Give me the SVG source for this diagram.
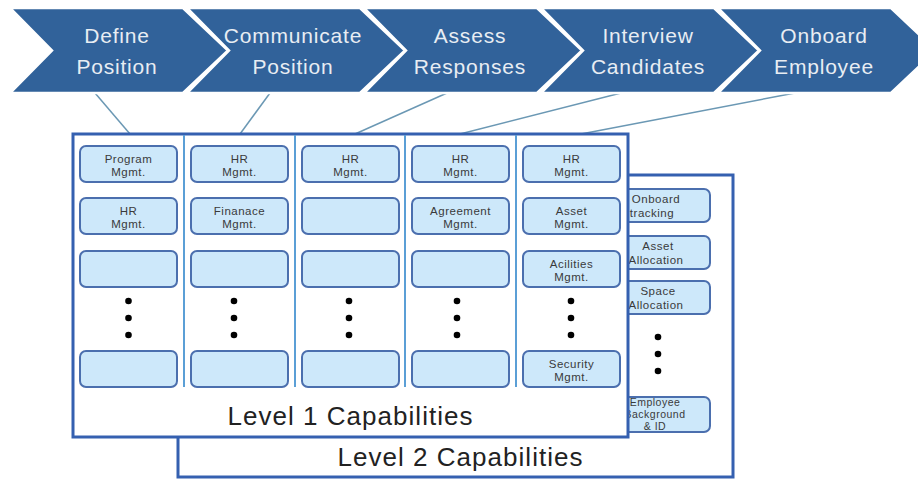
<svg xmlns="http://www.w3.org/2000/svg" width="918" height="479" viewBox="0 0 918 479">
<style>
.chev{fill:#31629a;stroke:#ffffff;stroke-width:2.5;stroke-linejoin:miter}
.ct{font-family:"Liberation Sans",Arial,sans-serif;font-size:21px;letter-spacing:0.8px;fill:#e8edf3;text-anchor:middle}
.cap{fill:#cde8fa;stroke:#4b6fae;stroke-width:2}
.st{font-family:"Liberation Sans",Arial,sans-serif;font-size:11.5px;letter-spacing:0.5px;fill:#3a3a3a;text-anchor:middle}
.sm{font-size:10.5px}
.frame{fill:#ffffff;stroke:#3560b0;stroke-width:3}
.div{stroke:#5b9fd6;stroke-width:2}
.lbl{font-family:"Liberation Sans",Arial,sans-serif;font-size:26px;fill:#222222;text-anchor:middle}
.conn{stroke:#6b98b4;stroke-width:1.5;fill:none}
.dot{fill:#000000}
</style>
<defs>
<polygon id="chevShape" points="0,8 173,8 218,50.5 173,93 0,93 42,50.5"/>
</defs>
<g id="connectors">
<line class="conn" x1="95" y1="93" x2="130" y2="134"/>
<line class="conn" x1="270" y1="93" x2="240" y2="134"/>
<line class="conn" x1="447" y1="93" x2="355" y2="134"/>
<line class="conn" x1="621" y1="93" x2="460" y2="134"/>
<line class="conn" x1="795" y1="93" x2="581" y2="134"/>
</g>
<g id="chevron-define" transform="translate(10,0)">
<use href="#chevShape" class="chev"/>
<text class="ct" x="107" y="43">Define</text>
<text class="ct" x="107" y="74">Position</text>
</g>
<g id="chevron-communicate" transform="translate(187,0)">
<use href="#chevShape" class="chev"/>
<text class="ct" x="106" y="43">Communicate</text>
<text class="ct" x="106" y="74">Position</text>
</g>
<g id="chevron-assess" transform="translate(364,0)">
<use href="#chevShape" class="chev"/>
<text class="ct" x="106" y="43">Assess</text>
<text class="ct" x="106" y="74">Responses</text>
</g>
<g id="chevron-interview" transform="translate(541,0)">
<use href="#chevShape" class="chev"/>
<text class="ct" x="107" y="43">Interview</text>
<text class="ct" x="107" y="74">Candidates</text>
</g>
<g id="chevron-onboard" transform="translate(718,0)">
<use href="#chevShape" class="chev"/>
<text class="ct" x="106" y="43">Onboard</text>
<text class="ct" x="106" y="74">Employee</text>
</g>
<g id="level2">
<rect class="frame" x="178" y="175" width="555" height="302"/>
<rect class="cap" x="600" y="189" width="110" height="33" rx="6"/>
<text class="st" x="656" y="203">Onboard</text>
<text class="st" x="652" y="217">tracking</text>
<rect class="cap" x="600" y="236" width="110" height="33" rx="6"/>
<text class="st" x="658" y="250">Asset</text>
<text class="st" x="656" y="264">Allocation</text>
<rect class="cap" x="600" y="281" width="110" height="33" rx="6"/>
<text class="st" x="658" y="295">Space</text>
<text class="st" x="656" y="309">Allocation</text>
<circle class="dot" cx="658" cy="337" r="3.3"/>
<circle class="dot" cx="658" cy="354" r="3.3"/>
<circle class="dot" cx="658" cy="371" r="3.3"/>
<rect class="cap" x="600" y="397" width="110" height="35" rx="6"/>
<text class="st sm" x="655" y="406">Employee</text>
<text class="st sm" x="655" y="418">Background</text>
<text class="st sm" x="655" y="430">&amp; ID</text>
<text class="lbl" x="460" y="466" textLength="245" lengthAdjust="spacing">Level 2 Capabilities</text>
</g>
<g id="level1">
<rect class="frame" x="73" y="134" width="555" height="303"/>
<line class="div" x1="184" y1="135" x2="184" y2="387"/>
<line class="div" x1="295" y1="135" x2="295" y2="387"/>
<line class="div" x1="405" y1="135" x2="405" y2="387"/>
<line class="div" x1="516" y1="135" x2="516" y2="387"/>
<text class="lbl" x="350" y="425" textLength="245" lengthAdjust="spacing">Level 1 Capabilities</text>
</g>
<g id="col1">
<rect class="cap" x="80" y="146" width="97" height="36" rx="6"/>
<text class="st" x="128.5" y="163">Program</text>
<text class="st" x="128.5" y="176">Mgmt.</text>
<rect class="cap" x="80" y="198" width="97" height="36" rx="6"/>
<text class="st" x="128.5" y="215">HR</text>
<text class="st" x="128.5" y="228">Mgmt.</text>
<rect class="cap" x="80" y="251" width="97" height="36" rx="6"/>
<circle class="dot" cx="128.5" cy="301" r="3.3"/>
<circle class="dot" cx="128.5" cy="318" r="3.3"/>
<circle class="dot" cx="128.5" cy="335" r="3.3"/>
<rect class="cap" x="80" y="351" width="97" height="36" rx="6"/>
</g>
<g id="col2">
<rect class="cap" x="191" y="146" width="97" height="36" rx="6"/>
<text class="st" x="239.5" y="163">HR</text>
<text class="st" x="239.5" y="176">Mgmt.</text>
<rect class="cap" x="191" y="198" width="97" height="36" rx="6"/>
<text class="st" x="239.5" y="215">Finanace</text>
<text class="st" x="239.5" y="228">Mgmt.</text>
<rect class="cap" x="191" y="251" width="97" height="36" rx="6"/>
<circle class="dot" cx="234" cy="301" r="3.3"/>
<circle class="dot" cx="234" cy="318" r="3.3"/>
<circle class="dot" cx="234" cy="335" r="3.3"/>
<rect class="cap" x="191" y="351" width="97" height="36" rx="6"/>
</g>
<g id="col3">
<rect class="cap" x="302" y="146" width="97" height="36" rx="6"/>
<text class="st" x="350.5" y="163">HR</text>
<text class="st" x="350.5" y="176">Mgmt.</text>
<rect class="cap" x="302" y="198" width="97" height="36" rx="6"/>
<rect class="cap" x="302" y="251" width="97" height="36" rx="6"/>
<circle class="dot" cx="349" cy="301" r="3.3"/>
<circle class="dot" cx="349" cy="318" r="3.3"/>
<circle class="dot" cx="349" cy="335" r="3.3"/>
<rect class="cap" x="302" y="351" width="97" height="36" rx="6"/>
</g>
<g id="col4">
<rect class="cap" x="412" y="146" width="97" height="36" rx="6"/>
<text class="st" x="460.5" y="163">HR</text>
<text class="st" x="460.5" y="176">Mgmt.</text>
<rect class="cap" x="412" y="198" width="97" height="36" rx="6"/>
<text class="st" x="460.5" y="215">Agreement</text>
<text class="st" x="460.5" y="228">Mgmt.</text>
<rect class="cap" x="412" y="251" width="97" height="36" rx="6"/>
<circle class="dot" cx="457" cy="301" r="3.3"/>
<circle class="dot" cx="457" cy="318" r="3.3"/>
<circle class="dot" cx="457" cy="335" r="3.3"/>
<rect class="cap" x="412" y="351" width="97" height="36" rx="6"/>
</g>
<g id="col5">
<rect class="cap" x="523" y="146" width="97" height="36" rx="6"/>
<text class="st" x="571.5" y="163">HR</text>
<text class="st" x="571.5" y="176">Mgmt.</text>
<rect class="cap" x="523" y="198" width="97" height="36" rx="6"/>
<text class="st" x="571.5" y="215">Asset</text>
<text class="st" x="571.5" y="228">Mgmt.</text>
<rect class="cap" x="523" y="251" width="97" height="36" rx="6"/>
<text class="st" x="571.5" y="268">Acilities</text>
<text class="st" x="571.5" y="281">Mgmt.</text>
<circle class="dot" cx="571" cy="301" r="3.3"/>
<circle class="dot" cx="571" cy="318" r="3.3"/>
<circle class="dot" cx="571" cy="335" r="3.3"/>
<rect class="cap" x="523" y="351" width="97" height="36" rx="6"/>
<text class="st" x="571.5" y="368">Security</text>
<text class="st" x="571.5" y="381">Mgmt.</text>
</g>
</svg>
